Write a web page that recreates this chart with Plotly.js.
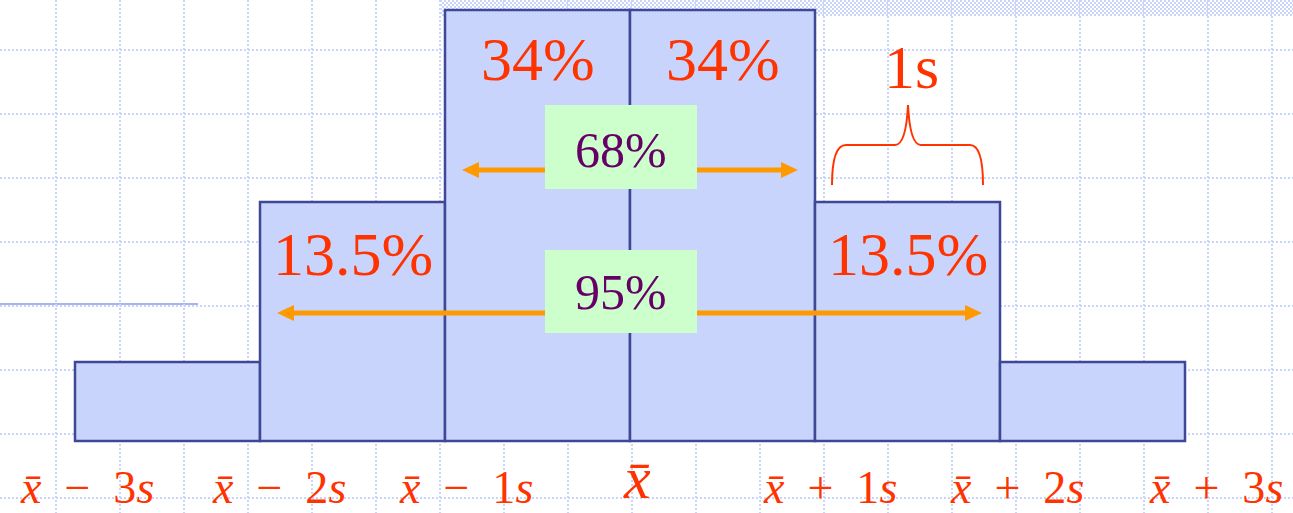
<!DOCTYPE html>
<html><head><meta charset="utf-8">
<script src="https://cdn.plot.ly/plotly-3.0.1.min.js"></script>
<style>html,body{margin:0;padding:0;background:#fff}</style>
</head><body><div id="chart" style="width:1293px;height:513px"></div>
<script>
// Data: bar centers in units of s from the mean, schematic heights (grid-pixel units)
const binCenters = [-2.5, -1.5, -0.5, 0.5, 1.5, 2.5];
const binHeights = [79, 239, 431, 431, 239, 79];
const binLabels  = ['', '13.5%', '34%', '34%', '13.5%', ''];
const tickVals   = [-3, -2, -1, 0, 1, 2, 3];
const tickTexts  = ['x̄ − 3s', 'x̄ − 2s', 'x̄ − 1s', 'x̄', 'x̄ + 1s', 'x̄ + 2s', 'x̄ + 3s'];
const rangeLabels = ['68%', '95%'];

const RED = '#ff3300', ORANGE = '#ff9900', PURPLE = '#660066';
const SERIF = 'Liberation Serif';

function fmtTick(t){
  const xb = '<i>x\u0304</i>';
  if (t === 'x̄') return xb;
  const m = t.match(/x̄ ([−+]) (\d)s/);
  return xb + '\u2002' + m[1] + '\u2002' + m[2] + '<i>s</i>';
}

const traces = [
  {type:'bar', x: binCenters, y: binHeights, width: 1,
   marker:{color:'#c8d4fc', line:{color:'#3f4896', width:2.5}},
   hoverinfo:'skip', showlegend:false},
  {type:'scatter', x:[], y:[], xaxis:'x2', yaxis:'y2', hoverinfo:'skip', showlegend:false}
];

const annotations = [];
binCenters.forEach((c,i)=>{
  if (!binLabels[i]) return;
  annotations.push({x:c, y: binHeights[i] - (binHeights[i] > 300 ? 49 : 52), xref:'x', yref:'y',
    text: binLabels[i], showarrow:false, xanchor:'center', yanchor:'middle',
    font:{family:SERIF, size:62, color:RED}});
});
const tickShift = [12, 19, 21, 7, 15, 17, 31];
tickVals.forEach((v,i)=>{
  const isMean = tickTexts[i]==='x̄';
  annotations.push({x:v, y:-72, xref:'x', yref:'y', text: fmtTick(tickTexts[i]), showarrow:false,
    xanchor:'center', yanchor:'bottom', xshift: tickShift[i], yshift: (isMean ? 0 : -2),
    font:{family:SERIF, size: isMean ? 60 : 46, color:RED}});
});
annotations.push({x:621, y:150, xref:'x2', yref:'y2', text:rangeLabels[0], showarrow:false,
  font:{family:SERIF, size:50, color:PURPLE}});
annotations.push({x:621, y:292, xref:'x2', yref:'y2', text:rangeLabels[1], showarrow:false,
  font:{family:SERIF, size:50, color:PURPLE}});
annotations.push({x:911, y:67, xref:'x2', yref:'y2', text:'1s', showarrow:false,
  font:{family:SERIF, size:62, color:RED}});

const shapes = [];
function arrow(x0, x1, y){
  shapes.push({type:'line', xref:'x2', yref:'y2', x0:x0+15, x1:x1-15, y0:y, y1:y, line:{color:ORANGE, width:5}});
  shapes.push({type:'path', xref:'x2', yref:'y2', path:`M${x0},${y} L${x0+17},${y-8} L${x0+17},${y+8} Z`, fillcolor:ORANGE, line:{width:0}});
  shapes.push({type:'path', xref:'x2', yref:'y2', path:`M${x1},${y} L${x1-17},${y-8} L${x1-17},${y+8} Z`, fillcolor:ORANGE, line:{width:0}});
}
arrow(462, 798, 170);
arrow(277, 982, 313);
shapes.push({type:'rect', xref:'x2', yref:'y2', x0:545, x1:697, y0:105, y1:189, fillcolor:'#ccffcc', line:{width:0}});
shapes.push({type:'rect', xref:'x2', yref:'y2', x0:545, x1:697, y0:250, y1:333, fillcolor:'#ccffcc', line:{width:0}});
shapes.push({type:'path', xref:'x2', yref:'y2',
  path:'M832,185 Q832,145 846,145 L895,145 Q906,145 908,105 Q910,145 921,145 L970,145 Q983,145 983,185',
  line:{color:RED, width:2}});
shapes.push({type:'line', xref:'x2', yref:'y2', x0:0, x1:198, y0:304, y1:304, line:{color:'#a6b4f2', width:2}, layer:'below'});

const checker = 'data:image/svg+xml;utf8,' + encodeURIComponent(
  '<svg xmlns="http://www.w3.org/2000/svg" width="853" height="16"><defs><pattern id="p" width="4" height="4" patternUnits="userSpaceOnUse"><rect width="4" height="4" fill="#ffffff"/><rect width="2" height="2" fill="#c8d4f8"/><rect x="2" y="2" width="2" height="2" fill="#c8d4f8"/></pattern></defs><rect width="853" height="16" fill="url(#p)"/></svg>');

const layout = {
  width:1293, height:513, margin:{l:0,r:0,t:0,b:0},
  paper_bgcolor:'#ffffff', plot_bgcolor:'#ffffff',
  bargap:0, showlegend:false,
  xaxis:{range:[-630/185, 663/185], showgrid:false, zeroline:false, showticklabels:false, ticks:''},
  yaxis:{range:[-72, 441], showgrid:true, gridcolor:'#c8d4f8', gridwidth:2, griddash:'2px,2px',
         tick0:7, dtick:64, zeroline:false, showticklabels:false, ticks:''},
  xaxis2:{overlaying:'x', range:[0,1293], showgrid:true, gridcolor:'#c8d4f8', gridwidth:2, griddash:'2px,2px',
          tick0:56, dtick:64, zeroline:false, showticklabels:false, ticks:''},
  yaxis2:{overlaying:'y', range:[513,0], showgrid:false, zeroline:false, showticklabels:false, ticks:''},
  annotations, shapes,
  images:[{source:checker, xref:'paper', yref:'paper', x:440/1293, y:1, sizex:853/1293, sizey:16/513,
           xanchor:'left', yanchor:'top', sizing:'stretch', layer:'below'}]
};
Plotly.newPlot('chart', traces, layout, {displayModeBar:false, staticPlot:true});
</script></body></html>
